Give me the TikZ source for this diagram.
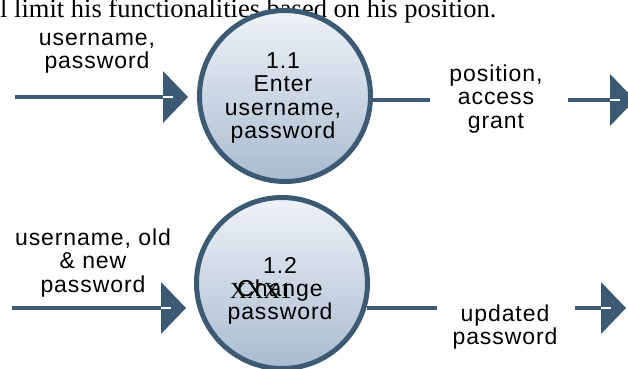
\documentclass[tikz,border=0pt]{standalone}
\usepackage{fontspec}
\setmainfont{Liberation Serif}
\setsansfont{Liberation Sans}[LetterSpace=4]
\usetikzlibrary{arrows.meta,calc}
\definecolor{flowblue}{HTML}{3D5A74}
\definecolor{procTop}{HTML}{EEF2F8}
\definecolor{procBot}{HTML}{A9BBCF}
\tikzset{>={Triangle[width=52pt,length=25pt,line width=0pt]}}
\tikzstyle{process}=[
	 circle, draw=flowblue, line width=5pt,
	 minimum size=171pt, inner sep=0pt,
	 top color=procTop, bottom color=procBot
    ]
\tikzstyle{flowlabel}=[font=\sffamily\fontsize{23}{23.3}\selectfont, align=center, inner sep=0pt]
\tikzstyle{flow}=[draw=flowblue, line width=4pt]
\newcommand{\flowArrow}[2]{\draw[flow,->] (#1) -- (#2); \draw[white, line width=1.5pt] ($(#2)+(-25,0)$) -- ++(10,0)}

\begin{document}
\begin{tikzpicture}[x=1pt,y=1pt]
\useasboundingbox (0,0) rectangle (628,-368);
\clip (0,0) rectangle (628,-368);

\node[anchor=base west, font=\fontsize{26.5}{28}\selectfont, inner sep=0pt] (intro) at (0,-17) {l limit his functionalities based on his position.};

\node[process] (p11) at (285,-96) {};
\node[process] (p12) at (282,-283) {};
\node[flowlabel] (p11t) at (283,-98) {1.1\\Enter\\username,\\password};
\node[flowlabel] (p12t) at (280,-291) {1.2\\Change\\password};
\node[flowlabel, anchor=base west, font=\fontsize{23}{23}\selectfont] (xx) at (230,-298) {XXX1};

\node[flowlabel] (l11) at (97,-53) {username,\\password};
\node[flowlabel] (l12) at (496,-99) {position,\\access\\grant};
\node[flowlabel] (l21) at (93,-263) {username, old\\\& new\\password};
\node[flowlabel] (l22) at (505,-327) {updated\\password};

\coordinate (s11) at (15,-97);
\coordinate (t11) at (188,-97);
\coordinate (o11) at (430,-100);
\coordinate (s12) at (568,-100);
\coordinate (t12) at (635,-100);
\coordinate (s21) at (12,-308);
\coordinate (t21) at (186,-308);
\coordinate (o21) at (437,-308);
\coordinate (s22) at (575,-308);
\coordinate (t22) at (626,-308);

\flowArrow{s11}{t11};
\draw[flow] (p11.east |- o11) -- (o11);
\flowArrow{s12}{t12};

\flowArrow{s21}{t21};
\draw[flow] ($(p12.east |- o21)+(-3,0)$) -- (o21);
\flowArrow{s22}{t22};

\end{tikzpicture}
\end{document}
